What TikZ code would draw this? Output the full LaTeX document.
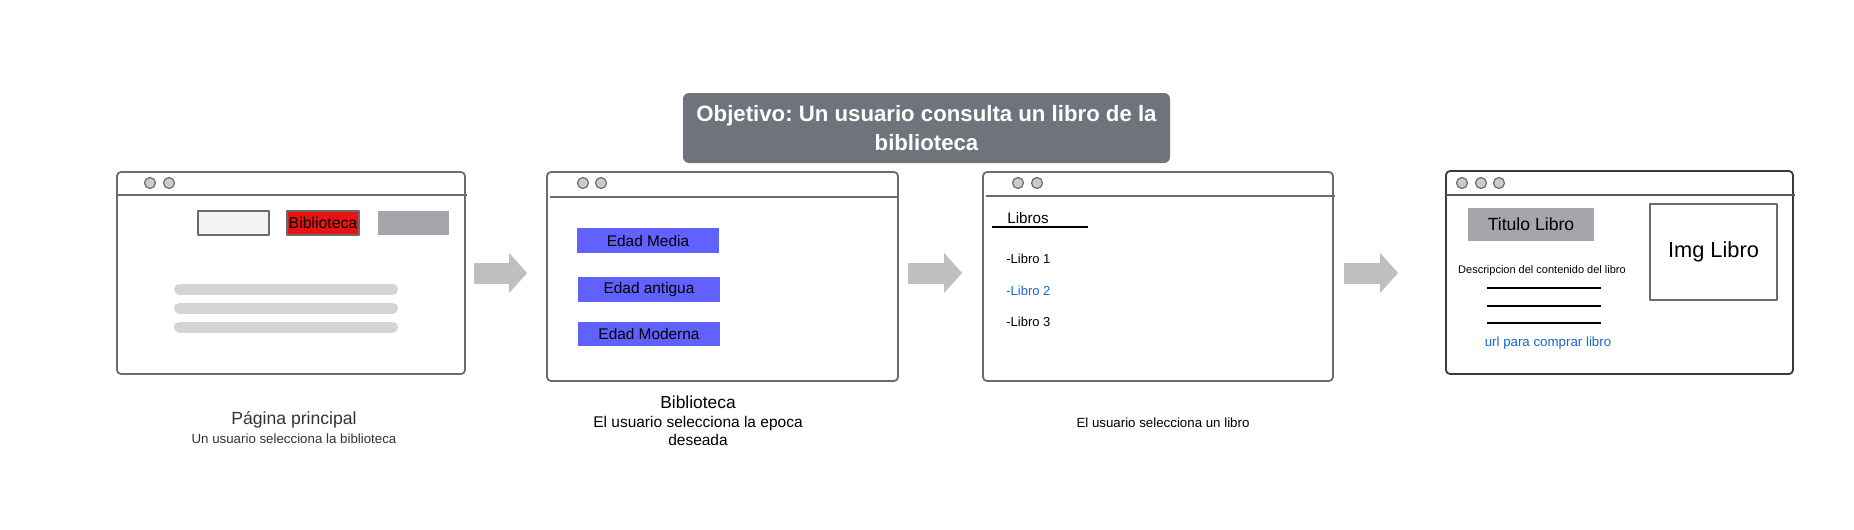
\documentclass[tikz,border=0pt]{standalone}
\usepackage{fontspec}
\setmainfont{Liberation Sans}
\usetikzlibrary{arrows.meta}
\frenchspacing
\definecolor{frame}{HTML}{6B6B6B}
\definecolor{darkframe}{HTML}{3A3A3A}
\definecolor{dotfill}{HTML}{CACACA}
\definecolor{goalgray}{HTML}{6F747C}
\definecolor{btngray}{HTML}{A5A6A9}
\definecolor{boxlight}{HTML}{F2F3F4}
\definecolor{btnred}{HTML}{E81414}
\definecolor{btnblue}{HTML}{6161FF}
\definecolor{barfill}{HTML}{D3D4D6}
\definecolor{flowgray}{HTML}{BFBFBF}
\definecolor{linkblue}{HTML}{1467D6}
\tikzset{
  every picture/.style={line join=round},
  win/.style={draw=frame, line width=0.9pt, rounded corners=2pt, inner sep=0pt},
  winbar/.style={draw=frame, line width=0.9pt},
  dot/.style={draw=frame, fill=dotfill, line width=0.6pt},
  field/.style={draw=frame, line width=0.9pt, inner sep=0pt},
  plainbox/.style={inner sep=0pt},
  epoca/.style={fill=btnblue, minimum width=71pt, minimum height=12.3pt, inner sep=0pt, font=\fontsize{7.7pt}{9pt}\selectfont},
  item/.style={anchor=west, inner sep=0pt, font=\fontsize{6.5pt}{8pt}\selectfont},
  barline/.style={draw=barfill, line width=5.5pt, line cap=round},
  flow/.style={draw=flowgray, line width=10.5pt, -{Triangle[length=9pt,width=20pt,line width=0pt]}},
}

\begin{document}
\begin{tikzpicture}[x=0.5pt,y=-0.5pt]
\useasboundingbox (0,0) rectangle (1854,530);
\node[fill=goalgray, rounded corners=3pt, minimum width=243.5pt, minimum height=35pt, inner sep=0pt, text=white, align=center, font=\bfseries\fontsize{11.1pt}{14.5pt}\selectfont] (goal) at (926.5,128) {Objetivo: Un usuario consulta un libro de la\\biblioteca};

\node[win, minimum width=174pt, minimum height=101pt] (w1) at (291,273) {};
\node[win, minimum width=175.5pt, minimum height=104.5pt] (w2) at (722.5,276.5) {};
\node[win, minimum width=175pt, minimum height=104.5pt] (w3) at (1158,276.5) {};
\node[win, draw=darkframe, minimum width=173.5pt, minimum height=101.5pt] (w4) at (1619.5,272.5) {};

\draw[winbar] (117,195) -- (467,195);
\draw[winbar] (550,197) -- (899,197);
\draw[winbar] (986,196) -- (1335,196);
\draw[winbar, draw=darkframe!85] (1446,195) -- (1795,195);
\foreach \cx in {150,169} \draw[dot] (\cx,183) circle[radius=2.75pt];
\foreach \cx in {583,601} \draw[dot] (\cx,183) circle[radius=2.75pt];
\foreach \cx in {1018,1037} \draw[dot] (\cx,183) circle[radius=2.75pt];
\foreach \cx in {1462,1481,1499} \draw[dot] (\cx,183) circle[radius=2.75pt];

\node[field, fill=boxlight, minimum width=35.5pt, minimum height=12pt] (search) at (233.5,223) {};
\node[field, fill=btnred, minimum width=36pt, minimum height=12pt, font=\fontsize{7.9pt}{9pt}\selectfont] (biblio) at (323,223) {Biblioteca};
\node[plainbox, fill=btngray, minimum width=35.5pt, minimum height=12pt] (login) at (413.5,223) {};
\foreach \by in {289.5,308,327} \draw[barline] (179.5,\by) -- (392.5,\by);

\node[epoca] (media) at (648,240.5) {Edad Media};
\node[epoca] (antigua) at (649,289.5) {Edad antigua};
\node[epoca] (moderna) at (649,334) {Edad Moderna};

\node[item, font=\fontsize{7.6pt}{9pt}\selectfont] (libros) at (1007,218) {Libros};
\draw[line width=0.8pt] (992,227) -- (1088,227);
\node[item] (libro1) at (1006,259) {-Libro 1};
\node[item, text=linkblue] (libro2) at (1006,291) {-Libro 2};
\node[item] (libro3) at (1006,322) {-Libro 3};

\node[plainbox, fill=btngray, minimum width=63pt, minimum height=16.5pt, font=\fontsize{8.8pt}{10pt}\selectfont] (titulo) at (1531,224.5) {Titulo Libro};
\node[field, line width=1pt, minimum width=63.5pt, minimum height=48pt, font=\fontsize{10.9pt}{12pt}\selectfont] (img) at (1713.5,252) {Img Libro};
\node[inner sep=0pt, font=\fontsize{5.5pt}{6.5pt}\selectfont] (desc) at (1542,271) {Descripcion del contenido del libro};
\foreach \ly in {288,306,323} \draw[line width=0.8pt] (1487,\ly) -- (1601,\ly);
\node[inner sep=0pt, text=linkblue, font=\fontsize{6.65pt}{8pt}\selectfont] (url) at (1548,343) {url para comprar libro};

\draw[flow] ([xshift=4pt]w1.east) -- ([xshift=-9.5pt]w2.west |- w1.east);
\draw[flow] ([xshift=4.5pt]w2.east |- w1.east) -- ([xshift=-10pt]w3.west |- w1.east);
\draw[flow] ([xshift=5pt]w3.east |- w1.east) -- ([xshift=-23.5pt]w4.west |- w1.east);

\node[text=black!80, font=\fontsize{8.8pt}{10pt}\selectfont] (cap1) at (294,420) {Página principal};
\node[text=black!80, font=\fontsize{6.65pt}{8pt}\selectfont] (sub1) at (294,439) {Un usuario selecciona la biblioteca};
\node[font=\fontsize{8.7pt}{10pt}\selectfont] (cap2) at (698,402) {Biblioteca};
\node[align=center, font=\fontsize{7.75pt}{9pt}\selectfont] (sub2) at (698,431) {El usuario selecciona la epoca\\deseada};
\node[font=\fontsize{6.65pt}{8pt}\selectfont] (sub3) at (1163,423) {El usuario selecciona un libro};
\end{tikzpicture}
\end{document}
